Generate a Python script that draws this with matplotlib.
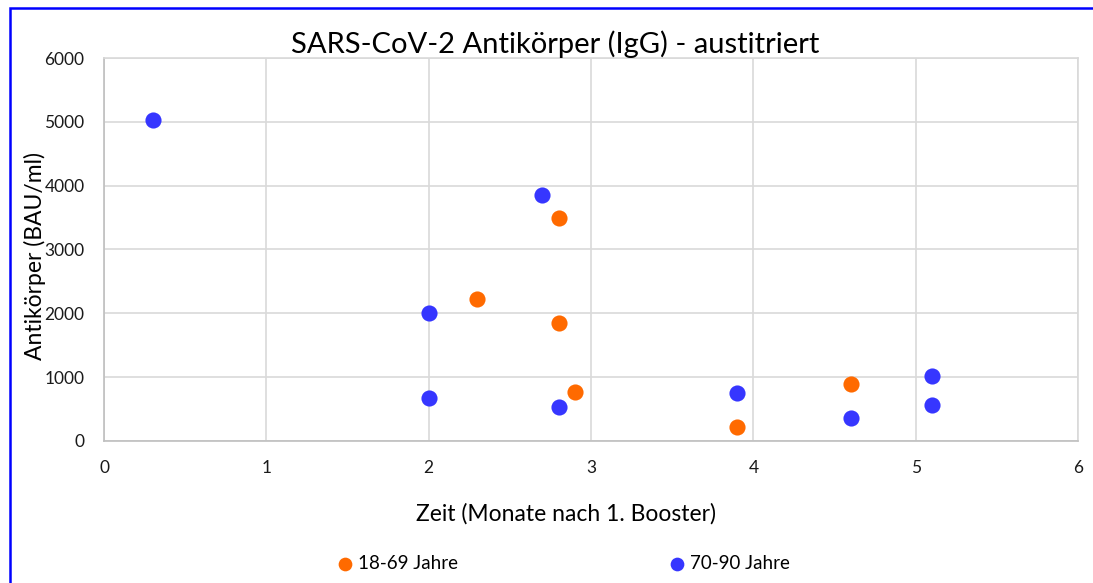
import matplotlib
matplotlib.use("Agg")
import matplotlib.pyplot as plt
from matplotlib.patches import Rectangle

plt.rcParams['font.family'] = ['Lato', 'DejaVu Sans']

# 18-69 Jahre
x_jung = [2.3, 2.8, 2.8, 2.9, 3.9, 4.6]
y_jung = [2220, 3500, 1850, 760, 220, 890]
# 70-90 Jahre
x_alt = [0.3, 2.0, 2.0, 2.7, 2.8, 3.9, 4.6, 5.1, 5.1]
y_alt = [5030, 2000, 680, 3850, 530, 750, 360, 1015, 560]

fig = plt.figure(figsize=(10.93, 5.83), dpi=100)
ax = fig.add_axes([0.0952, 0.2436, 0.8911, 0.6569])

a = ax.scatter(x_jung, y_jung, s=135, color="#FF6A00", label="18-69 Jahre", zorder=3, linewidths=0)
b = ax.scatter(x_alt, y_alt, s=135, color="#3636FF", label="70-90 Jahre", zorder=3, linewidths=0)

ax.set_xlim(0, 6)
ax.set_ylim(0, 6000)
ax.set_xticks(range(0, 7))
ax.set_yticks(range(0, 6001, 1000))
ax.grid(True, color="#D9D9D9", linewidth=1.2)
ax.set_axisbelow(True)
for s in ax.spines.values():
    s.set_color("#D9D9D9")
    s.set_linewidth(1.2)
ax.spines["bottom"].set_color("#BFBFBF")
ax.spines["left"].set_color("#BFBFBF")
ax.tick_params(length=0, labelsize=12.5, colors="#1a1a1a", pad=14)
ax.tick_params(axis="x", pad=14)

fig.text(555 / 1093, 1 - 44 / 583, "SARS-CoV-2 Antikörper (IgG) - austitriert",
         fontsize=21, ha="center", va="center")
fig.text(566 / 1093, 1 - 514 / 583, "Zeit (Monate nach 1. Booster)",
         fontsize=16.5, ha="center", va="center")
fig.text(35 / 1093, 1 - 256 / 583, "Antikörper (BAU/ml)",
         fontsize=16.5, ha="center", va="center", rotation=90)

fig.legend(handles=[a, b], loc="center", bbox_to_anchor=(0.5105, 0.034), ncol=2,
           frameon=False, fontsize=13.5, handletextpad=-0.3, columnspacing=10.7,
           markerscale=0.85)

# blauer Rahmen
fig.patches.append(Rectangle((10 / 1093, -0.5), 2, 0.5 + 1 - 8 / 583, transform=fig.transFigure,
                             fill=False, edgecolor="#0000FF", linewidth=1.8))

fig.savefig("out.png", dpi=100)
